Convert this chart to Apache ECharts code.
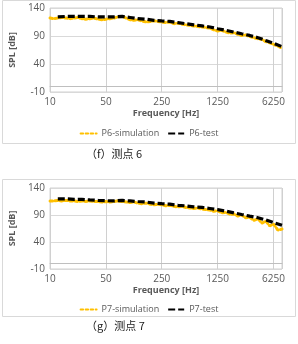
<!DOCTYPE html>
<html><head><meta charset="utf-8">
<script src="https://cdn.jsdelivr.net/npm/echarts@6/dist/echarts.min.js"></script>
<style>html,body{margin:0;padding:0;background:#fff}#c{width:298px;height:344px}</style>
</head><body><div id="c"></div>
<script>
// Frequencies [Hz]
const testFreq = [12.5,16,20,25,31.5,40,50,63,80,100,125,160,200,250,315,400,500,630,800,1000,1250,1600,2000,2500,3150,4000,5000,6300,8000];
const simFreq = [10,11.2,12.5,14,16,18,20,22.4,25,28,31.5,35.5,40,45,50,56,63,71,80,90,100,112,125,140,160,180,200,224,250,280,315,355,400,450,500,560,630,710,800,900,1000,1120,1250,1400,1600,1800,2000,2240,2500,2800,3150,3550,4000,4500,5000,5600,6300,7100,8000];
// SPL [dB]
const p6Test = [124,125,125,125,125,124,124,124,125,123,121,120,118,117,116,114,112,110,108,106,103,100,97,94,91,87,82,77,71];
const p6Sim = [122,121,122,123,122,121,122,123,121,120,121,122,120,119,120,121,122,124,125,122,119,118,119,117,115,116,117,116,115,114,115,112,113,111,110,109,108,107,106,105,104,101,99,100,97,95,96,93,91,92,89,87,85,84,80,78,75,72,68];
const p7Test = [120,120,119,119,118,117,116.5,116,117,116,115,114,112,111,110,108,107,105,104,102,100,97,94,91,88,85,81,76,71];
const p7Sim = [116,116,117,116,117,116,116,115,116,115,116,115,115,114,115,114,115,116,115,114,113,114,112,111,112,110,109,110,109,107,108,106,105,106,104,103,102,103,101,100,99,97,98,94,95,91,92,88,90,85,86,80,83,75,79,70,73,62,64];
const xTickLabels = ['10','50','250','1250','6250'];
const yTicks = [-10,40,90,140];
const seriesNames = ['P6-simulation','P6-test','P7-simulation','P7-test'];
const captions = ['（f）测点 6','（g）测点 7'];

const base = 5, f0 = 10, fMax = 8000;
const toX = f => Math.log(f / f0) / Math.log(base);
const pairs = (fs, vs) => fs.map((f, i) => [toX(f), vs[i]]);

const font = 'Open Sans';
const gray = '#595959';
function xAxis(gi){
  return {type:'value', gridIndex:gi, min:0, max:toX(fMax), interval:1,
    name:'Frequency [Hz]', nameLocation:'middle', nameGap:17,
    nameTextStyle:{fontFamily:font,fontSize:9,fontWeight:'bold',color:gray},
    axisLine:{show:true,lineStyle:{color:'#bfbfbf'}}, axisTick:{show:false},
    axisLabel:{fontFamily:font,fontSize:10,color:gray,margin:5,showMaxLabel:false,
      formatter:v=>xTickLabels[Math.round(v)]||''},
    splitLine:{show:true,lineStyle:{color:'#d0d0d0'}}};
}
function yAxis(gi){
  return {type:'value', gridIndex:gi, min:yTicks[0], max:yTicks[yTicks.length-1], interval:yTicks[1]-yTicks[0],
    name:'SPL [dB]', nameLocation:'middle', nameGap:26, nameRotate:90,
    nameTextStyle:{fontFamily:font,fontSize:9,fontWeight:'bold',color:gray},
    axisLine:{show:false}, axisTick:{show:false},
    axisLabel:{fontFamily:font,fontSize:10,color:gray,margin:5},
    splitLine:{show:true,lineStyle:{color:'#d9d9d9'}}};
}
function simSeries(name, gi, data){
  return {name, type:'line', xAxisIndex:gi, yAxisIndex:gi, data, showSymbol:false, symbol:'none',
    lineStyle:{color:'#FFC000', width:3, type:[2.5,2.5], cap:'round'}, itemStyle:{color:'#FFC000'}, z:2};
}
function testSeries(name, gi, data){
  return {name, type:'line', xAxisIndex:gi, yAxisIndex:gi, data, showSymbol:false, symbol:'none',
    lineStyle:{color:'#000', width:3.2, type:[7,3]}, itemStyle:{color:'#000'}, z:3};
}
const legendBase = {left:'center', itemWidth:16, itemHeight:4, itemGap:8,
  itemStyle:{opacity:0}, textStyle:{fontFamily:font,fontSize:9,color:gray}};
const chart = echarts.init(document.getElementById('c'), null, {renderer:'canvas'});
chart.setOption({
  animation:false,
  grid:[{left:43, top:8, right:16, height:84, containLabel:false, show:true, borderColor:'#d0d0d0', borderWidth:1},
        {left:43, top:188, right:16, height:81, containLabel:false, show:true, borderColor:'#d0d0d0', borderWidth:1}],
  xAxis:[xAxis(0), xAxis(1)],
  yAxis:[yAxis(0), yAxis(1)],
  legend:[Object.assign({data:seriesNames.slice(0,2), top:124}, legendBase),
          Object.assign({data:seriesNames.slice(2,4), top:300}, legendBase)],
  graphic:[
    {type:'rect', shape:{x:2.5,y:0.5,width:293,height:143}, style:{fill:null, stroke:'#d9d9d9', lineWidth:1}, silent:true},
    {type:'rect', shape:{x:2.5,y:179.5,width:293,height:137}, style:{fill:null, stroke:'#d9d9d9', lineWidth:1}, silent:true},
    {type:'text', left:86, top:148, style:{text:captions[0], font:'11px "Noto Sans CJK SC"', fill:'#222'}},
    {type:'text', left:86, top:320, style:{text:captions[1], font:'11px "Noto Sans CJK SC"', fill:'#222'}}
  ],
  series:[
    simSeries(seriesNames[0],0,pairs(simFreq,p6Sim)),
    testSeries(seriesNames[1],0,pairs(testFreq,p6Test)),
    simSeries(seriesNames[2],1,pairs(simFreq,p7Sim)),
    testSeries(seriesNames[3],1,pairs(testFreq,p7Test))
  ]
});
</script></body></html>
